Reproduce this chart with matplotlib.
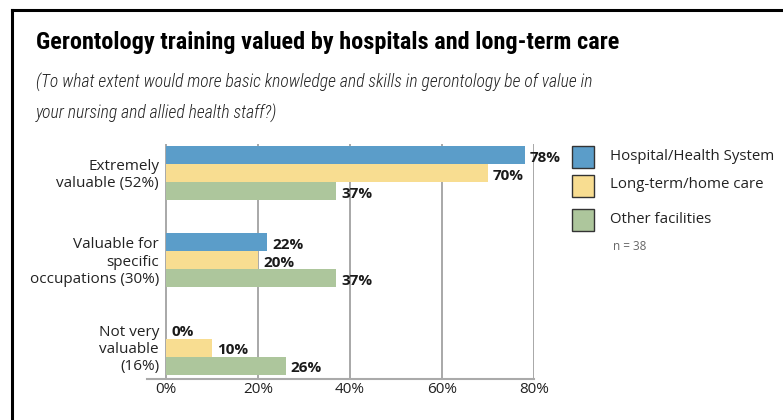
import numpy as np
import matplotlib
matplotlib.use("Agg")
import matplotlib.pyplot as plt
from matplotlib.patches import Rectangle
from matplotlib.lines import Line2D

# data
categories = ["Extremely\nvaluable (52%)", "Valuable for\nspecific\noccupations (30%)", "Not very\nvaluable\n(16%)"]
series = ["Hospital/Health System", "Long-term/home care", "Other facilities"]
hospital = [78, 22, 0]
longterm = [70, 20, 10]
other = [37, 37, 26]
ticks = [0, 20, 40, 60, 80]
tick_labels = ["0%", "20%", "40%", "60%", "80%"]
colors = ["#5b9dc9", "#f8dd91", "#adc69c"]

narrow = ["Roboto Condensed", "Roboto", "DejaVu Sans"]
body = ["Open Sans", "DejaVu Sans"]

fig = plt.figure(figsize=(7.83, 4.2), dpi=100)

# frame lines (top and left)
fig.add_artist(Line2D([12/783, 1.0], [1 - 10/420, 1 - 10/420], color="black", lw=2.2))
fig.add_artist(Line2D([12/783, 12/783], [0.0, 1 - 10/420], color="black", lw=2.2))

fig.text(36/783, 1 - 43/420, "Gerontology training valued by hospitals and long-term care",
         fontsize=17.5, fontweight="bold", family=narrow, va="center", ha="left")
fig.text(36/783, 1 - 82/420, "(To what extent would more basic knowledge and skills in gerontology be of value in",
         fontsize=12.7, style="italic", fontweight="light", family=narrow,
         va="center", ha="left", color="#222222")
fig.text(36/783, 1 - 113/420, "your nursing and allied health staff?)",
         fontsize=12.7, style="italic", fontweight="light", family=narrow,
         va="center", ha="left", color="#222222")

ax = fig.add_axes([147/783, 41/420, 387/783, 235/420])
y = np.arange(len(categories))
h = 0.207
vals = [hospital, longterm, other]
for i, (v, c) in enumerate(zip(vals, colors)):
    pos = y + (i - 1) * h
    ax.barh(pos, v, height=h, color=c, zorder=2)
    for p, val in zip(pos, v):
        ax.text(val + 1.1, p + 0.03, f"{val}%", fontsize=11, fontweight="bold",
                va="center", ha="left", color="#1a1a1a", zorder=3, family=body)

ax.set_xlim(-4.13, 80)
ax.set_ylim(2.36, -0.335)
for t in ticks:
    ax.axvline(t, color="#999999", lw=1.2, zorder=1)
for s in ["top", "right", "left"]:
    ax.spines[s].set_visible(False)
ax.spines["bottom"].set_color("#aaaaaa")
ax.spines["bottom"].set_linewidth(1.5)
ax.set_xticks(ticks)
ax.set_xticklabels(tick_labels, fontsize=11, color="#222222", family=body)
ax.tick_params(axis="x", length=0, pad=2)
ax.set_yticks([])
for yi, lab in zip(y, categories):
    ax.text(-1.5, yi + 0.02, lab, ha="right", va="center", fontsize=11, color="#222222",
            linespacing=1.2, family=body)

# legend
for i, (name, c) in enumerate(zip(series, colors)):
    top = [146, 175, 209][i]
    fig.add_artist(Rectangle((572/783, 1 - (top + 22)/420), 22/783, 22/420,
                             facecolor=c, edgecolor="#333333", lw=1.0))
    fig.text(610/783, 1 - (top + 10)/420, name, fontsize=10.8, va="center", ha="left",
             color="#222222", family=body)
fig.text(613/783, 1 - 247/420, "n = 38", fontsize=8.5, va="center", ha="left",
         color="#666666", family=body)

fig.savefig("out.png", dpi=100)
